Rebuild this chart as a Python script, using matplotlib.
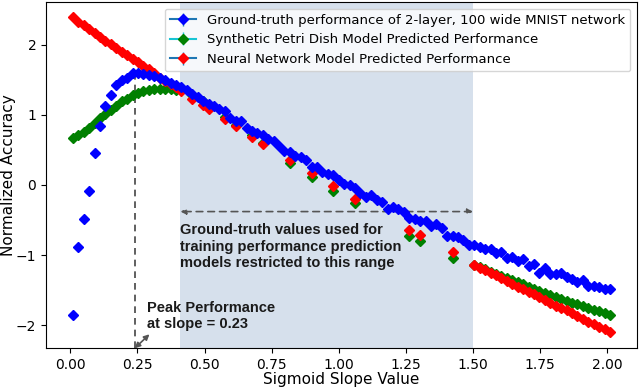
import matplotlib.pyplot as plt
import numpy as np
from matplotlib.lines import Line2D

# sigmoid slope values (100 evaluated slopes)
slope = np.linspace(0.01, 2.01, 100)

ground_truth = [
    -1.86, -0.89, -0.48, -0.08, 0.46, 0.84, 1.12, 1.28, 1.43, 1.49,
    1.53, 1.60, 1.60, 1.58, 1.57, 1.55, 1.53, 1.50, 1.46, 1.43,
    1.39, 1.35, 1.30, 1.26, 1.20, 1.16, 1.12, 1.09, 1.06, 0.96,
    0.91, 0.91, 0.81, 0.77, 0.74, 0.71, 0.65, 0.63, 0.55, 0.49,
    0.47, 0.41, 0.40, 0.35, 0.26, 0.26, 0.185, 0.16, 0.14, 0.07,
    0.02, 0.005, -0.05, -0.11, -0.17, -0.15, -0.21, -0.25, -0.34, -0.32,
    -0.34, -0.39, -0.47, -0.48, -0.51, -0.52, -0.59, -0.555, -0.62, -0.735,
    -0.725, -0.74, -0.79, -0.85, -0.86, -0.88, -0.92, -0.915, -0.97, -0.96,
    -1.04, -1.03, -1.09, -1.06, -1.15, -1.13, -1.25, -1.19, -1.27, -1.27,
    -1.25, -1.31, -1.34, -1.39, -1.35, -1.44, -1.44, -1.45, -1.48, -1.48,
]

# predictions: below the training range, a few test slopes inside it, above it
test_idx = [20, 22, 24, 25, 28, 30, 33, 35, 40, 44, 48, 52, 62, 64, 70]

petri_low = [0.665, 0.71, 0.76, 0.815, 0.88, 0.95, 1.01, 1.07, 1.12, 1.19,
             1.23, 1.28, 1.31, 1.34, 1.36, 1.37, 1.375, 1.37, 1.37, 1.36]
petri_test = [1.35, 1.28, 1.19, 1.13, 0.97, 0.86, 0.71, 0.60, 0.31, 0.11,
              -0.09, -0.26, -0.73, -0.80, -1.04]
petri_high = [-1.14, -1.17, -1.20, -1.24, -1.27, -1.30, -1.33, -1.36, -1.39,
              -1.42, -1.45, -1.48, -1.51, -1.54, -1.57, -1.60, -1.62, -1.65,
              -1.68, -1.70, -1.73, -1.75, -1.78, -1.80, -1.83, -1.85]

nn_low = [2.39, 2.33, 2.28, 2.22, 2.16, 2.11, 2.05, 2.01, 1.95, 1.90,
          1.85, 1.80, 1.75, 1.69, 1.65, 1.59, 1.53, 1.48, 1.44, 1.39]
nn_test = [1.34, 1.23, 1.14, 1.08, 0.935, 0.84, 0.69, 0.59, 0.35, 0.17,
           -0.01, -0.195, -0.64, -0.72, -0.96]
nn_high = [-1.14, -1.18, -1.22, -1.25, -1.29, -1.33, -1.37, -1.41, -1.45,
           -1.49, -1.52, -1.56, -1.60, -1.64, -1.68, -1.72, -1.76, -1.79,
           -1.83, -1.87, -1.91, -1.95, -1.99, -2.02, -2.06, -2.10]

labels = ['Ground-truth performance of 2-layer, 100 wide MNIST network',
          'Synthetic Petri Dish Model Predicted Performance',
          'Neural Network Model Predicted Performance']

train_lo, train_hi = 0.41, 1.50
peak_slope = 0.24


def assemble(low, test, high):
    y = np.full(len(slope), np.nan)
    y[:len(low)] = low
    y[test_idx] = test
    y[len(slope) - len(high):] = high
    return y


petri = assemble(petri_low, petri_test, petri_high)
nn = assemble(nn_low, nn_test, nn_high)

fig = plt.figure(figsize=(6.4, 3.87), dpi=100)
ax = fig.add_axes([0.072, 0.1, 0.923, 0.895])

ax.axvspan(train_lo, train_hi, color='#d6e0ec', lw=0, zorder=0)

series = [
    (np.array(ground_truth), 'blue', 'tab:blue', 3),
    (petri, 'green', '#17c4d4', 2),
    (nn, 'red', 'tab:blue', 2.1),
]
handles = []
for y, c, ec, z in series:
    eb = ax.errorbar(slope, y, yerr=0.04, fmt='D', ms=4.8, color=c,
                     ecolor=ec, elinewidth=1.0, zorder=z)
    handles.append((Line2D([], [], color=ec, lw=1.5), eb))

ax.set_xlim(-0.09, 2.11)
ax.set_ylim(-2.33, 2.61)

# peak marker line
ax.vlines(peak_slope, -2.33, max(ground_truth), colors='#444444',
          linestyles=(0, (4, 3)), lw=1.2, zorder=1)

arrow = dict(arrowstyle='<|-|>', color='#555555', lw=1.2,
             shrinkA=0, shrinkB=0, mutation_scale=8)
ax.annotate('', xy=(train_lo, -0.38), xytext=(train_hi, -0.38),
            arrowprops=dict(arrow, ls=(0, (4, 3))))
ax.annotate('', xy=(peak_slope, -2.33), xytext=(0.295, -2.13),
            arrowprops=arrow)

txt = dict(family='Liberation Sans', fontweight='bold', fontsize=10.5,
           color='#1a1a1a', ha='left', va='center', linespacing=1.25)
ax.text(train_lo, -0.88, 'Ground-truth values used for\n'
        'training performance prediction\nmodels restricted to this range',
        **txt)
ax.text(0.285, -1.87, 'Peak Performance\nat slope = 0.23', **txt)

ax.set_xlabel('Sigmoid Slope Value', fontsize=11, labelpad=0)
ax.set_ylabel('Normalized Accuracy', fontsize=11, labelpad=0)
ax.tick_params(labelsize=10)

ax.legend(handles, labels, loc='upper right', fontsize=9.5)

fig.savefig('out.png', dpi=100)
